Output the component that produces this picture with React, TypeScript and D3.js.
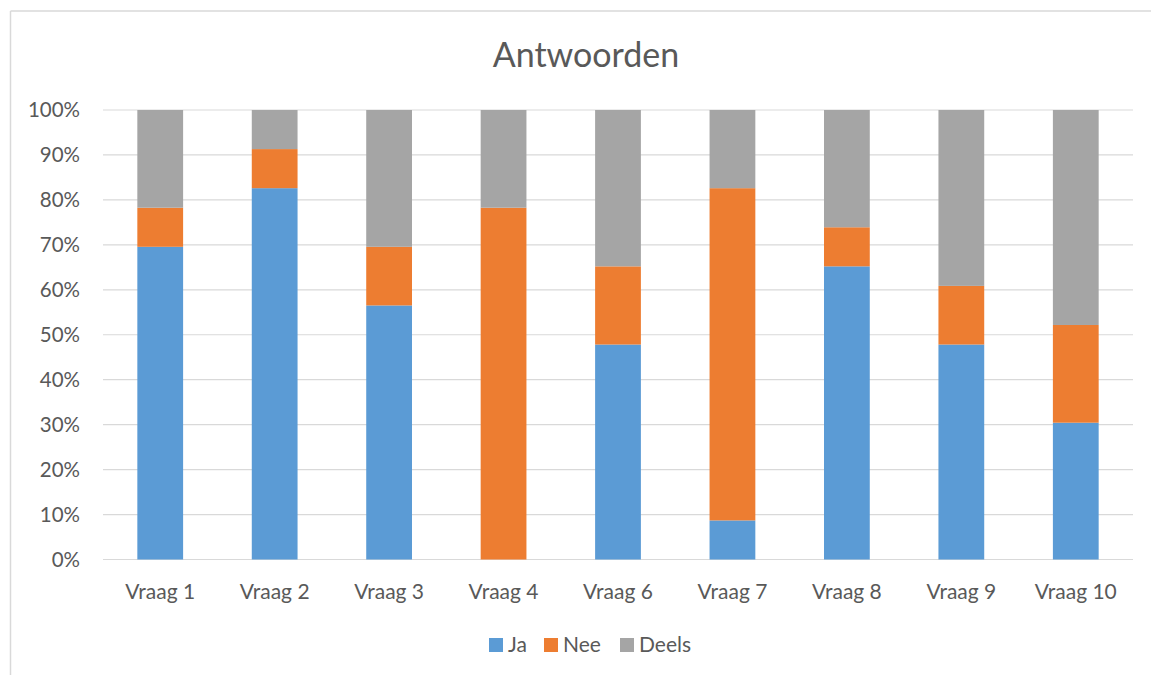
import React from 'react';
import * as d3 from 'd3';

// answers per question (counts out of 23 respondents)
const categories = ['Vraag 1', 'Vraag 2', 'Vraag 3', 'Vraag 4', 'Vraag 6', 'Vraag 7', 'Vraag 8', 'Vraag 9', 'Vraag 10'];
const ja = [16, 19, 13, 0, 11, 2, 15, 11, 7];
const nee = [2, 2, 3, 18, 4, 17, 2, 3, 5];
const deels = [5, 2, 7, 5, 8, 4, 6, 9, 11];
const seriesNames = ['Ja', 'Nee', 'Deels'];
const colors = ['#5B9BD5', '#ED7D31', '#A5A5A5'];
const yTicks = [0, 0.1, 0.2, 0.3, 0.4, 0.5, 0.6, 0.7, 0.8, 0.9, 1];

const App = () => {
  const width = 1151;
  const height = 675;
  const margin = { top: 110, right: 18, bottom: 115.5, left: 103 };
  const font = 'Lato, "Open Sans", sans-serif';
  const textColor = '#595959';

  const rows = categories.map((c, i) => {
    const total = ja[i] + nee[i] + deels[i];
    return { cat: c, Ja: ja[i] / total, Nee: nee[i] / total, Deels: deels[i] / total };
  });

  const stack = d3.stack<any>().keys(seriesNames);
  const layers = stack(rows);

  const x = d3.scaleBand()
    .domain(categories)
    .range([margin.left, width - margin.right])
    .padding(0);
  const barWidth = x.bandwidth() * 0.4;

  const y = d3.scaleLinear()
    .domain([0, 1])
    .range([height - margin.bottom, margin.top]);

  const legendX = [489, 544, 620];

  return (
    <svg width={width} height={height} style={{ position: 'absolute', left: 0, top: 0 }}>
      <rect x={0} y={0} width={width} height={height} fill='white' />
      {/* chart frame: only top and left edges visible */}
      <line x1={10.5} y1={11} x2={width} y2={11} stroke='#d9d9d9' strokeWidth={1.5} />
      <line x1={10.5} y1={11} x2={10.5} y2={height} stroke='#d9d9d9' strokeWidth={1.5} />

      <text x={586} y={67} textAnchor='middle' fontFamily={font} fontSize={34} fill={textColor}>Antwoorden</text>

      {yTicks.map(t => (
        <g key={`tick-${t}`}>
          <line x1={margin.left} x2={width - margin.right} y1={y(t)} y2={y(t)} stroke='#d9d9d9' strokeWidth={1.2} />
          <text x={80} y={y(t)} dy='0.35em' textAnchor='end' fontFamily={font} fontSize={20.5} fill={textColor}>
            {d3.format('.0%')(t)}
          </text>
        </g>
      ))}

      {layers.map((layer, li) => (
        <g key={`layer-${li}`} fill={colors[li]}>
          {layer.map((d, i) => (
            <rect
              key={`bar-${li}-${i}`}
              x={(x(categories[i]) as number) + (x.bandwidth() - barWidth) / 2}
              y={y(d[1])}
              width={barWidth}
              height={y(d[0]) - y(d[1])}
            />
          ))}
        </g>
      ))}

      {categories.map(c => (
        <text key={`cat-${c}`} x={(x(c) as number) + x.bandwidth() / 2} y={599} textAnchor='middle' fontFamily={font} fontSize={21} fill={textColor}>
          {c}
        </text>
      ))}

      {seriesNames.map((s, i) => (
        <g key={`legend-${s}`} transform={`translate(${legendX[i]}, 638)`}>
          <rect x={0} y={0} width={14} height={14} fill={colors[i]} />
          <text x={19} y={14} fontFamily={font} fontSize={21} fill={textColor}>{s}</text>
        </g>
      ))}
    </svg>
  );
};

export default App;
